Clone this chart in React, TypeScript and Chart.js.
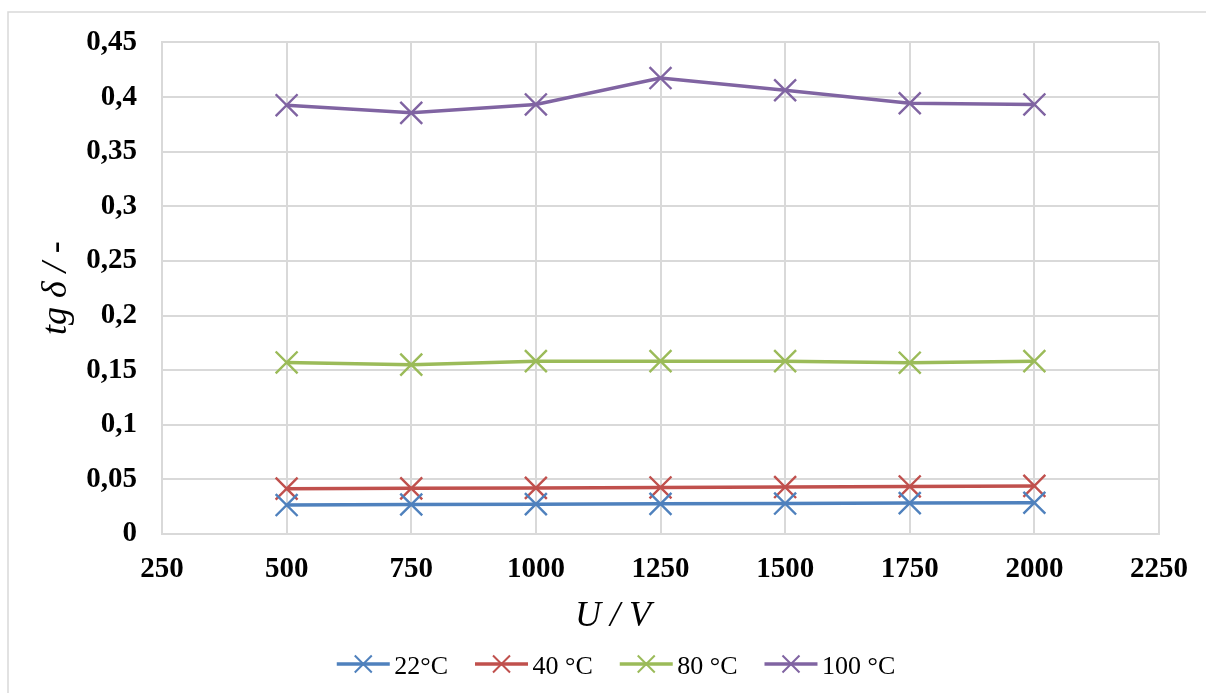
import React, { useEffect, useRef } from "react";
import { Chart, registerables } from "chart.js";

Chart.register(...registerables);

const voltages = [500, 750, 1000, 1250, 1500, 1750, 2000];
const series22 = [0.0265, 0.027, 0.0273, 0.0276, 0.0279, 0.0283, 0.0286];
const series40 = [0.0415, 0.0418, 0.0422, 0.0426, 0.043, 0.0435, 0.044];
const series80 = [0.157, 0.155, 0.1582, 0.1582, 0.1582, 0.1568, 0.1582];
const series100 = [0.3925, 0.3855, 0.3932, 0.4174, 0.4062, 0.3943, 0.3932];
const seriesNames = ["22°C", "40 °C", "80 °C", "100 °C"];
const seriesColors = ["#4F81BD", "#C0504D", "#9BBB59", "#8064A2"];
const xTickLabels = ["250", "500", "750", "1000", "1250", "1500", "1750", "2000", "2250"];
const yTickLabels = ["0", "0,05", "0,1", "0,15", "0,2", "0,25", "0,3", "0,35", "0,4", "0,45"];
const xTitle = "U / V";
const yTitle = "tg δ / -";

const SERIF = "'Liberation Serif', 'Times New Roman', serif";

function drawCross(ctx: CanvasRenderingContext2D, x: number, y: number, a: number) {
  ctx.beginPath();
  ctx.moveTo(x - a, y - a);
  ctx.lineTo(x + a, y + a);
  ctx.moveTo(x - a, y + a);
  ctx.lineTo(x + a, y - a);
  ctx.stroke();
}

const decorPlugin = {
  id: "decor",
  beforeDraw(chart: any) {
    const ctx = chart.ctx as CanvasRenderingContext2D;
    ctx.save();
    ctx.strokeStyle = "#d9d9d9";
    ctx.lineWidth = 1.5;
    ctx.beginPath();
    ctx.moveTo(1206, 12);
    ctx.lineTo(8, 12);
    ctx.lineTo(8, 693);
    ctx.stroke();
    ctx.restore();
  },
  afterDraw(chart: any) {
    const ctx = chart.ctx as CanvasRenderingContext2D;
    const area = chart.chartArea;
    ctx.save();
    ctx.fillStyle = "#000";
    ctx.font = `italic 36px ${SERIF}`;
    ctx.textAlign = "center";
    ctx.textBaseline = "alphabetic";
    ctx.fillText(xTitle, 613, 626);
    ctx.save();
    ctx.translate(66, (area.top + area.bottom) / 2);
    ctx.rotate(-Math.PI / 2);
    ctx.fillText(yTitle, 0, 0);
    ctx.restore();

    ctx.font = `26px ${SERIF}`;
    ctx.textAlign = "left";
    const lineLen = 53;
    const gapText = 4.5;
    const gapItem = 27;
    const widths = seriesNames.map((n) => lineLen + gapText + ctx.measureText(n).width);
    const total = widths.reduce((a, b) => a + b, 0) + gapItem * (seriesNames.length - 1);
    let x = 616 - total / 2;
    const ly = 664;
    seriesNames.forEach((name, i) => {
      ctx.strokeStyle = seriesColors[i];
      ctx.lineWidth = 3.5;
      ctx.beginPath();
      ctx.moveTo(x, ly);
      ctx.lineTo(x + lineLen, ly);
      ctx.stroke();
      ctx.lineWidth = 2;
      drawCross(ctx, x + lineLen / 2, ly, 8.5);
      ctx.fillStyle = "#000";
      ctx.fillText(name, x + lineLen + gapText, 674);
      x += widths[i] + gapItem;
    });
    ctx.restore();
  },
};

export default function App() {
  const ref = useRef<HTMLCanvasElement>(null);
  useEffect(() => {
    if (!ref.current) return;
    const all = [series22, series40, series80, series100];
    const chart = new Chart(ref.current, {
      type: "line",
      data: {
        datasets: all.map((s, i) => ({
          label: seriesNames[i],
          data: s.map((v, j) => ({ x: voltages[j], y: v })),
          borderColor: seriesColors[i],
          backgroundColor: seriesColors[i],
          borderWidth: 3.5,
          pointStyle: "crossRot",
          pointRadius: 15.5,
          pointBorderWidth: 2.4,
          pointBorderColor: seriesColors[i],
          tension: 0,
          fill: false,
        })),
      },
      options: {
        responsive: false,
        animation: false,
        layout: { padding: { left: 0, top: 41, right: 45, bottom: 0 } },
        plugins: { legend: { display: false }, tooltip: { enabled: false } },
        scales: {
          x: {
            type: "linear",
            min: 250,
            max: 2250,
            afterFit: (s: any) => {
              s.height = 159;
            },
            ticks: {
              stepSize: 250,
              autoSkip: false,
              maxRotation: 0,
              padding: 18,
              color: "#000",
              font: { family: SERIF, size: 29, weight: "bold" },
              callback: (_v: any, idx: number) => xTickLabels[idx],
            },
            grid: { color: "#d9d9d9", lineWidth: 2, drawTicks: false },
            border: { color: "#d9d9d9", width: 2 },
          },
          y: {
            min: 0,
            max: 0.45,
            afterFit: (s: any) => {
              s.width = 162;
            },
            ticks: {
              stepSize: 0.05,
              autoSkip: false,
              padding: 25,
              color: "#000",
              font: { family: SERIF, size: 29, weight: "bold" },
              callback: (_v: any, idx: number) => yTickLabels[idx],
            },
            grid: { color: "#d9d9d9", lineWidth: 2, drawTicks: false },
            border: { color: "#d9d9d9", width: 2 },
          },
        },
      },
      plugins: [decorPlugin],
    } as any);
    return () => chart.destroy();
  }, []);
  return (
    <canvas
      ref={ref}
      width={1206}
      height={693}
      style={{ position: "absolute", left: 0, top: 0, width: 1206, height: 693, display: "block" }}
    />
  );
}
